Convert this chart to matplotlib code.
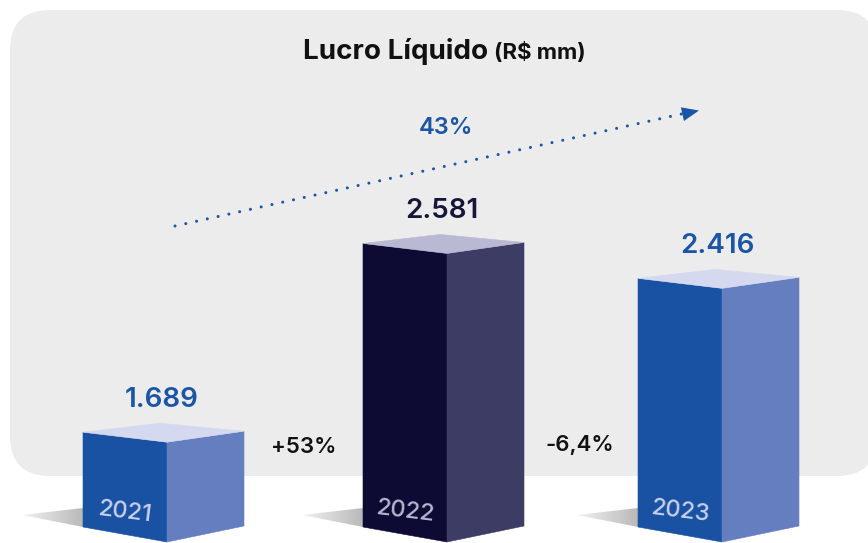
import matplotlib
matplotlib.use("Agg")
import matplotlib.pyplot as plt
import numpy as np
from matplotlib.patches import Polygon, FancyBboxPatch
from matplotlib.colors import LinearSegmentedColormap

# ---- data ----
years = ["2021", "2022", "2023"]
values = [1689, 2581, 2416]
value_labels = ["1.689", "2.581", "2.416"]
growth_labels = ["+53%", "-6,4%"]
cagr_label = "43%"
title = "Lucro Líquido"
unit = "(R$ mm)"

# ---- style ----
FONT = ["Inter", "DejaVu Sans"]
plt.rcParams['font.family'] = FONT
front_colors = ["#1a52a3", "#0d0b33", "#1a52a3"]
side_colors = ["#657ec0", "#3d3c64", "#657ec0"]
top_colors = ["#d5d9f0", "#b9b9d4", "#d5d9f0"]
value_colors = ["#1b55a5", "#16163a", "#1b55a5"]
year_colors = ["#c9d0ee", "#b7b7d2", "#c9d0ee"]
positions = [83, 363, 638]   # left edge of each bar's front face (px)
PANEL = "#ececec"
BLUE = "#1b55a5"

W, H = 868, 543
fig = plt.figure(figsize=(W / 100, H / 100), dpi=100)
bg = fig.add_axes([0, 0, 1, 1])
bg.set_xlim(0, W)
bg.set_ylim(H, 0)
bg.axis('off')
ax = fig.add_axes([0, 0, 1, 1])
ax.patch.set_alpha(0)
ax.axis('off')

# value axis: truncated visual baseline
PX_PER_UNIT = 0.2116
BASE_VALUE = 1241
BASE_PX = 527
ylo = BASE_VALUE - (H - BASE_PX) / PX_PER_UNIT
yhi = BASE_VALUE + BASE_PX / PX_PER_UNIT
u = 1 / PX_PER_UNIT  # value units per pixel

# ---- background panel ----
panel = FancyBboxPatch((10, 10), 867, 466, boxstyle="round,pad=0,rounding_size=40",
                       facecolor=PANEL, edgecolor='none', zorder=0)
bg.add_patch(panel)

# title
bg.text(488, 59, title, ha='right', va='baseline', fontsize=20, fontweight='bold', color='#111111')
bg.text(494, 59, unit, ha='left', va='baseline', fontsize=16, fontweight='bold', color='#111111')

# dotted trend arrow
x0, y0, x1, y1 = 175, 226, 686, 113
bg.plot([x0, x1], [y0, y1], color=BLUE, lw=2.2, linestyle=(0, (0.01, 3.6)),
        dash_capstyle='round', zorder=3)
ang = np.arctan2(y1 - y0, x1 - x0)
d = np.array([np.cos(ang), np.sin(ang)])
n = np.array([-d[1], d[0]])
tip = np.array([699, 110.5])
back = tip - 17 * d
head = Polygon([tip, back + 7 * n, back - 7 * n], closed=True, facecolor=BLUE, edgecolor='none', zorder=3)
bg.add_patch(head)
bg.text(446, 128, cagr_label, ha='center', va='center', fontsize=17, fontweight='semibold', color=BLUE)

# growth labels
bg.text(304, 447, growth_labels[0], ha='center', va='center', fontsize=16, fontweight='semibold', color='#111111')
bg.text(580, 445, growth_labels[1], ha='center', va='center', fontsize=16, fontweight='semibold', color='#111111')

# ---- 3D bars ----
shadow_cmap = LinearSegmentedColormap.from_list("sh", ["#f2f2f2", "#b9b9b9"])
FW, SW = 84, 77
for i, (yr, v) in enumerate(zip(years, values)):
    fx = positions[i]
    B = BASE_VALUE
    # shadow
    sh = Polygon([(fx - 61, B + 12 * u), (fx, B + 19 * u), (fx, B)], closed=True,
                 facecolor='none', edgecolor='none', transform=ax.transData)
    ax.add_patch(sh)
    grad = np.linspace(0, 1, 200).reshape(1, -1)
    im = ax.imshow(grad, extent=[fx - 61, fx, B, B + 19 * u], cmap=shadow_cmap,
                   aspect='auto', origin='lower', zorder=1, interpolation='bilinear')
    im.set_clip_path(sh)
    # faces
    front = [(fx, v), (fx + FW, v - 10 * u), (fx + FW, B - 15 * u), (fx, B)]
    side = [(fx + FW, v - 10 * u), (fx + FW + SW, v + 1 * u), (fx + FW + SW, B + 1 * u), (fx + FW, B - 15 * u)]
    top = [(fx, v), (fx + 77, v + 9 * u), (fx + FW + SW, v + 1 * u), (fx + FW, v - 10 * u)]
    ax.add_patch(Polygon(front, closed=True, facecolor=front_colors[i], edgecolor=front_colors[i], lw=0.4, zorder=2))
    ax.add_patch(Polygon(side, closed=True, facecolor=side_colors[i], edgecolor=side_colors[i], lw=0.4, zorder=2))
    ax.add_patch(Polygon(top, closed=True, facecolor=top_colors[i], edgecolor=top_colors[i], lw=0.4, zorder=2))
    # labels
    ax.text(fx + 79, v + 25 * u, value_labels[i], ha='center', va='baseline', fontsize=20,
            fontweight='semibold', color=value_colors[i], zorder=4)
    ax.text(fx + 42, B + 15 * u, yr, ha='center', va='center', fontsize=17, rotation=-7,
            rotation_mode='anchor', color=year_colors[i], fontweight='medium', zorder=4)

ax.set_xlim(0, W)
ax.set_ylim(ylo, yhi)

fig.savefig("out.png", dpi=100, facecolor='white')
